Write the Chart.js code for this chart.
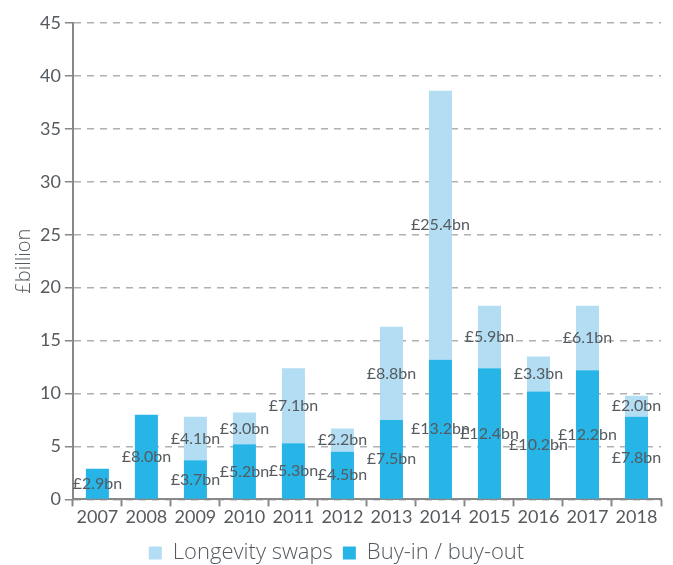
<!DOCTYPE html>
<html>
<head>
<meta charset="utf-8">
<script src="https://cdn.jsdelivr.net/npm/chart.js@4/dist/chart.umd.min.js"></script>
<style>
  html, body { margin: 0; padding: 0; background: #fff; }
  #wrap { width: 673px; height: 565px; }
</style>
</head>
<body>
<div id="wrap"><canvas id="chart"></canvas></div>
<script>
const years = ['2007', '2008', '2009', '2010', '2011', '2012', '2013', '2014', '2015', '2016', '2017', '2018']
const buyIn = [2.9, 8.0, 3.7, 5.2, 5.3, 4.5, 7.5, 13.2, 12.4, 10.2, 12.2, 7.8]
const longevity = [0, 0, 4.1, 3.0, 7.1, 2.2, 8.8, 25.4, 5.9, 3.3, 6.1, 2.0]

const textColor = '#555a5e'
const fontFamily = 'Lato, "Noto Sans", sans-serif'
const wideFont = '"Open Sans", "Noto Sans", sans-serif'

// draws the £x.xbn label in the middle of each segment
const barLabels = {
    id: 'barLabels',
    afterDatasetsDraw(chart) {
        const ctx = chart.ctx
        ctx.save()
        ctx.font = '16px ' + fontFamily
        ctx.fillStyle = textColor
        ctx.textAlign = 'center'
        ctx.textBaseline = 'middle'
        chart.data.datasets.forEach((ds, i) => {
            chart.getDatasetMeta(i).data.forEach((bar, j) => {
                const v = ds.data[j]
                if (!v) return
                const y = (bar.y + bar.base) / 2
                ctx.fillText('£' + v.toFixed(1) + 'bn', bar.x, y)
            })
        })
        ctx.restore()
    }
}

new Chart(document.getElementById('chart'), {
    type: 'bar',
    data: {
        labels: years,
        datasets: [
            {
                label: 'Buy-in / buy-out',
                data: buyIn,
                backgroundColor: '#27b4e7',
                barPercentage: 0.47,
                categoryPercentage: 1
            },
            {
                label: 'Longevity swaps',
                data: longevity,
                backgroundColor: '#b2ddf3',
                barPercentage: 0.47,
                categoryPercentage: 1
            }
        ]
    },
    options: {
        responsive: true,
        maintainAspectRatio: false,
        animation: false,
        layout: {
            padding: { left: 12, right: 12, top: 23, bottom: -9 }
        },
        plugins: {
            legend: {
                position: 'bottom',
                reverse: true,
                labels: {
                    color: textColor,
                    font: { size: 22, family: wideFont, weight: '300' },
                    boxWidth: 13,
                    boxHeight: 13,
                    padding: 10
                }
            },
            tooltip: { enabled: false }
        },
        scales: {
            x: {
                stacked: true,
                afterFit(scale) {
                    scale.height += 4
                },
                grid: {
                    offset: true,
                    drawOnChartArea: false,
                    drawTicks: true,
                    tickLength: 7,
                    tickColor: '#888',
                    tickWidth: 2
                },
                border: { color: '#888', width: 2 },
                ticks: {
                    color: textColor,
                    font: { size: 18, family: fontFamily },
                    padding: 0,
                    maxRotation: 0
                }
            },
            y: {
                stacked: true,
                min: 0,
                max: 45,
                ticks: {
                    stepSize: 5,
                    color: textColor,
                    font: { size: 18, family: fontFamily },
                    padding: 4
                },
                grid: {
                    color: '#b0b0b0',
                    lineWidth: 1.5,
                    tickLength: 8,
                    tickColor: '#888',
                    tickWidth: 1.5
                },
                border: { color: '#888', width: 2, dash: [7, 6] },
                title: {
                    display: true,
                    text: '£billion',
                    color: textColor,
                    font: { size: 20, family: wideFont, weight: '300' },
                    padding: 0
                }
            }
        }
    },
    plugins: [barLabels]
})
</script>
</body>
</html>
